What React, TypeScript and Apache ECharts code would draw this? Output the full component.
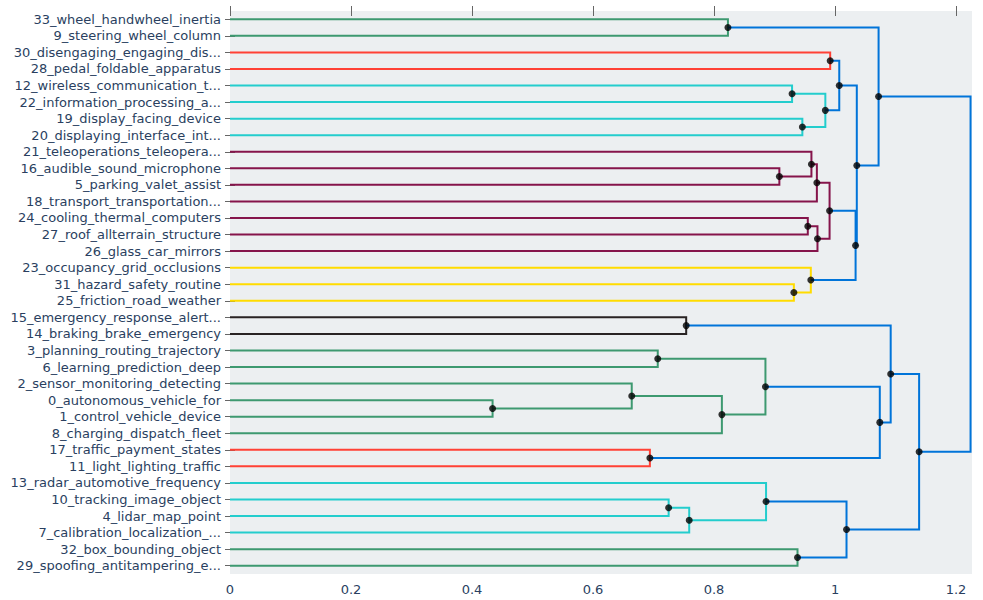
import React, { useEffect, useRef } from "react";
import * as echarts from "echarts";

// Topic labels, listed from the top of the dendrogram to the bottom
const leafLabels = [
  "33_wheel_handwheel_inertia",
  "9_steering_wheel_column",
  "30_disengaging_engaging_dis...",
  "28_pedal_foldable_apparatus",
  "12_wireless_communication_t...",
  "22_information_processing_a...",
  "19_display_facing_device",
  "20_displaying_interface_int...",
  "21_teleoperations_teleopera...",
  "16_audible_sound_microphone",
  "5_parking_valet_assist",
  "18_transport_transportation...",
  "24_cooling_thermal_computers",
  "27_roof_allterrain_structure",
  "26_glass_car_mirrors",
  "23_occupancy_grid_occlusions",
  "31_hazard_safety_routine",
  "25_friction_road_weather",
  "15_emergency_response_alert...",
  "14_braking_brake_emergency",
  "3_planning_routing_trajectory",
  "6_learning_prediction_deep",
  "2_sensor_monitoring_detecting",
  "0_autonomous_vehicle_for",
  "1_control_vehicle_device",
  "8_charging_dispatch_fleet",
  "17_traffic_payment_states",
  "11_light_lighting_traffic",
  "13_radar_automotive_frequency",
  "10_tracking_image_object",
  "4_lidar_map_point",
  "7_calibration_localization_...",
  "32_box_bounding_object",
  "29_spoofing_antitampering_e...",
];

// Linkage: ids below 34 are leaves, id 34 + k is the k-th merge
const mergeChildren = [
  [0, 1], [2, 3], [4, 5], [6, 7], [36, 37], [35, 38], [9, 10], [8, 40],
  [41, 11], [12, 13], [43, 14], [42, 44], [16, 17], [15, 46], [45, 47],
  [39, 48], [34, 49], [18, 19], [20, 21], [23, 24], [22, 53], [54, 25],
  [52, 55], [26, 27], [56, 57], [51, 58], [29, 30], [60, 31], [28, 61],
  [32, 33], [62, 63], [59, 64], [50, 65],
];

const mergeHeights = [
  0.823, 0.992, 0.929, 0.946, 0.984, 1.007, 0.908, 0.961, 0.97, 0.955, 0.971,
  0.991, 0.932, 0.96, 1.034, 1.036, 1.072, 0.754, 0.707, 0.434, 0.664, 0.813,
  0.885, 0.694, 1.074, 1.092, 0.725, 0.759, 0.886, 0.938, 1.019, 1.139, 1.224,
];

const mergeColors = [
  "g", "r", "c", "c", "c", "b", "m", "m", "m", "m", "m", "m", "y", "y", "b",
  "b", "b", "k", "g", "g", "g", "g", "g", "r", "b", "b", "c", "c", "c", "g",
  "b", "b", "b",
];

const xTickValues = [0, 0.2, 0.4, 0.6, 0.8, 1, 1.2];

const palette: Record<string, string> = {
  b: "rgb(0,116,217)",
  c: "rgb(35,205,205)",
  g: "rgb(61,153,112)",
  k: "rgb(40,35,35)",
  m: "rgb(133,20,75)",
  r: "rgb(255,65,54)",
  y: "rgb(255,220,0)",
};

const X_MAX = 1.2264;
const Y_MAX = leafLabels.length * 10;
const leafY = (i: number) => 5 + 10 * i;
const yTickValues = leafLabels.map((_, i) => leafY(i));

function buildTree() {
  const n = leafLabels.length;
  const px: number[] = [];
  const py: number[] = [];
  leafLabels.forEach((_, i) => {
    px[i] = 0;
    py[i] = leafY(i);
  });
  const links: any[] = [];
  const nodes: number[][] = [];
  mergeChildren.forEach(([a, b], k) => {
    const h = mergeHeights[k];
    const id = n + k;
    px[id] = h;
    py[id] = (py[a] + py[b]) / 2;
    links.push({
      coords: [
        [px[a], py[a]],
        [h, py[a]],
        [h, py[b]],
        [px[b], py[b]],
      ],
      lineStyle: { color: palette[mergeColors[k]] },
    });
    if (k < mergeChildren.length - 1) nodes.push([h, py[id]]);
  });
  return { links, nodes };
}

const labelFont = {
  fontFamily: "'DejaVu Sans', Verdana, sans-serif",
  fontSize: 13,
  color: "#2a3f5f",
};

export default function App() {
  const ref = useRef<HTMLDivElement>(null);

  useEffect(() => {
    if (!ref.current) return;
    const chart = echarts.init(ref.current, undefined, { renderer: "svg" });
    const { links, nodes } = buildTree();
    const tickStyle = { color: "#666", width: 1 };

    chart.setOption({
      animation: false,
      backgroundColor: "#ffffff",
      grid: {
        left: 230,
        right: 11,
        top: 11,
        bottom: 26,
        show: true,
        backgroundColor: "#ECEFF1",
        borderWidth: 0,
      },
      xAxis: [
        {
          type: "value",
          position: "bottom",
          min: 0,
          max: X_MAX,
          splitLine: { show: false },
          axisLine: { show: false },
          axisTick: {
            show: true,
            length: 5,
            customValues: xTickValues,
            lineStyle: tickStyle,
          },
          axisLabel: {
            ...labelFont,
            margin: 9,
            customValues: xTickValues,
            formatter: (v: number) => String(Math.round(v * 10) / 10),
          },
        },
        {
          type: "value",
          position: "top",
          min: 0,
          max: X_MAX,
          splitLine: { show: false },
          axisLine: { show: false },
          axisTick: {
            show: true,
            length: 5,
            customValues: xTickValues,
            lineStyle: tickStyle,
          },
          axisLabel: { show: false },
        },
      ],
      yAxis: [
        {
          type: "value",
          position: "left",
          min: 0,
          max: Y_MAX,
          inverse: true,
          splitLine: { show: false },
          axisLine: { show: false },
          axisTick: {
            show: true,
            length: 5,
            customValues: yTickValues,
            lineStyle: tickStyle,
          },
          axisLabel: {
            ...labelFont,
            margin: 9,
            customValues: yTickValues,
            formatter: (v: number) => leafLabels[Math.round((v - 5) / 10)] ?? "",
          },
        },
        {
          type: "value",
          position: "right",
          min: 0,
          max: Y_MAX,
          inverse: true,
          splitLine: { show: false },
          axisLine: { show: false },
          axisTick: {
            show: true,
            length: 5,
            customValues: yTickValues,
            lineStyle: tickStyle,
          },
          axisLabel: { show: false },
        },
      ],
      series: [
        {
          type: "lines",
          coordinateSystem: "cartesian2d",
          xAxisIndex: 0,
          yAxisIndex: 0,
          polyline: true,
          silent: true,
          lineStyle: { width: 2, opacity: 1 },
          data: links,
          z: 2,
        },
        {
          type: "scatter",
          xAxisIndex: 0,
          yAxisIndex: 0,
          symbol: "circle",
          symbolSize: 7,
          itemStyle: { color: "#000000" },
          data: nodes,
          z: 3,
        },
      ],
    });

    return () => chart.dispose();
  }, []);

  return (
    <div
      ref={ref}
      style={{ position: "absolute", left: 0, top: 0, width: 983, height: 600 }}
    />
  );
}
